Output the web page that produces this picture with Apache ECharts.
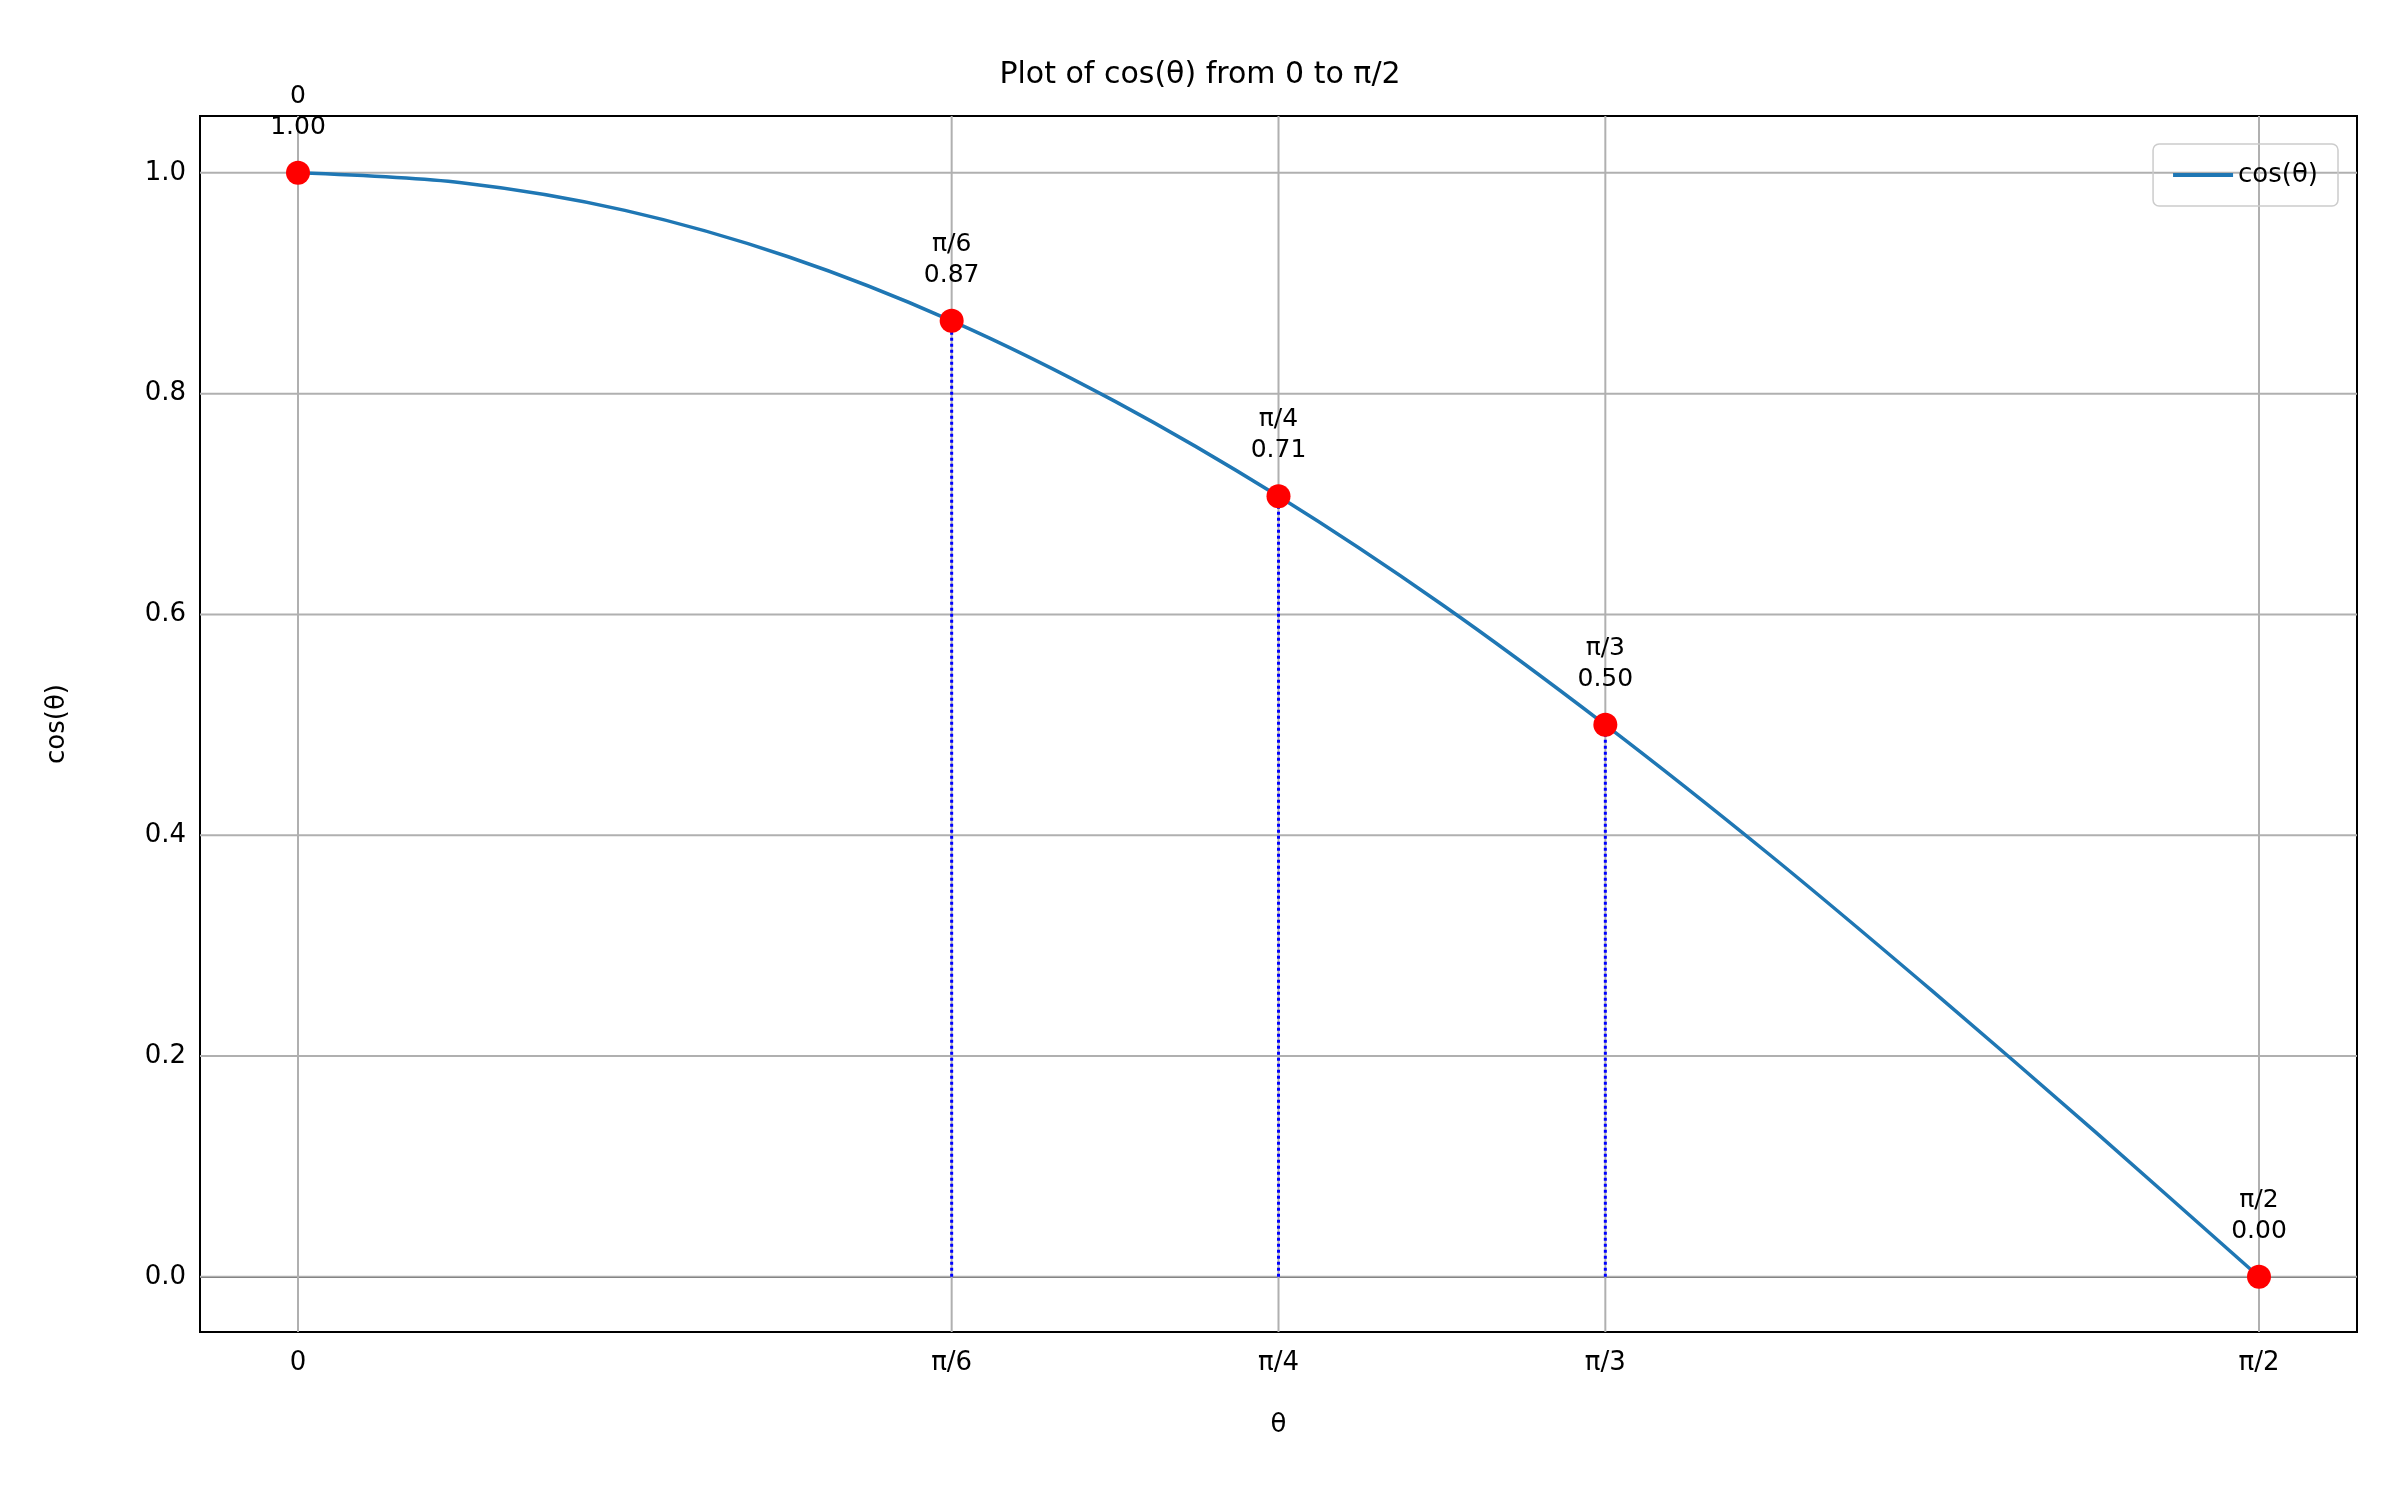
<!DOCTYPE html>
<html><head><meta charset="utf-8">
<script src="https://cdn.jsdelivr.net/npm/echarts@6/dist/echarts.min.js"></script>
<style>html,body{margin:0;padding:0;background:#fff}#c{width:2400px;height:1500px}</style>
</head><body><div id="c"></div>
<script>
// curve samples (theta in radians)
const curveX = [0,0.1309,0.2618,0.3927,0.5236,0.6545,0.7854,0.9163,1.0472,1.1781,1.3090,1.4399,1.5708];
const curveY = [1.00,0.991,0.966,0.924,0.866,0.793,0.707,0.609,0.500,0.383,0.259,0.131,0.00];
// highlighted points
const ptLabels = ['0','π/6','π/4','π/3','π/2'];
const ptX = [0,0.5236,0.7854,1.0472,1.5708];
const ptY = [1.00,0.866,0.707,0.50,0.00];
const dropIdx = [1,2,3];
const yTicks = [0.0,0.2,0.4,0.6,0.8,1.0];
const X_MIN = -0.0785, X_MAX = 1.6493, Y_MIN = -0.05, Y_MAX = 1.0515;

const font = 'DejaVu Sans';
const gridStyle = {color:'#b0b0b0',width:2};
const series = [];
ptX.forEach(x=>series.push({type:'line',showSymbol:false,silent:true,data:[[x,Y_MIN],[x,Y_MAX]],lineStyle:gridStyle,z:1}));
yTicks.forEach(y=>series.push({type:'line',showSymbol:false,silent:true,data:[[X_MIN,y],[X_MAX,y]],lineStyle:gridStyle,z:1}));
series.push({name:'cos(θ)',type:'line',smooth:0.3,showSymbol:false,
  data:curveX.map((x,i)=>[x,curveY[i]]),lineStyle:{color:'#1f77b4',width:3.5},itemStyle:{color:'#1f77b4'},z:3});
dropIdx.forEach(i=>series.push({type:'line',showSymbol:false,data:[[ptX[i],0],[ptX[i],ptY[i]]],
  lineStyle:{color:'#0000ff',width:3,type:[3,3]},z:4}));
const lbl = {show:true,position:'top',distance:18,color:'#000',fontFamily:font,fontSize:25,lineHeight:31};
series.push({type:'scatter',symbolSize:24,itemStyle:{color:'#ff0000',opacity:1},z:5,
  data:ptX.map((x,i)=>({value:[x,ptY[i]],label:Object.assign({},lbl,{formatter:ptLabels[i]+'\n'+ptY[i].toFixed(2)})})),
  label:lbl});

const chart = echarts.init(document.getElementById('c'));
chart.setOption({
  animation:false,
  title:{text:'Plot of cos(θ) from 0 to π/2',left:'center',top:55,textStyle:{fontFamily:font,fontSize:30,fontWeight:'normal',color:'#000'}},
  legend:{data:['cos(θ)'],right:62,top:144,itemWidth:60,itemHeight:4,icon:'rect',itemGap:10,borderColor:'#ccc',borderWidth:1.5,borderRadius:6,padding:[18,20],
    textStyle:{fontFamily:font,fontSize:26,color:'#000'}},
  grid:{left:200,right:43,top:116,bottom:168,show:true,borderColor:'#000',borderWidth:2},
  xAxis:{type:'value',min:X_MIN,max:X_MAX,name:'θ',nameLocation:'middle',nameGap:80,
    nameTextStyle:{fontFamily:font,fontSize:26,color:'#000'},
    axisLine:{lineStyle:{color:'#000',width:2}},splitLine:{show:false},
    axisTick:{customValues:ptX,length:8,lineStyle:{color:'#000'}},
    axisLabel:{customValues:ptX,formatter:v=>{const i=ptX.findIndex(p=>Math.abs(p-v)<1e-6);return i>=0?ptLabels[i]:'';},
      fontFamily:font,fontSize:26,color:'#000',margin:18}},
  yAxis:{type:'value',min:Y_MIN,max:Y_MAX,name:'cos(θ)',nameLocation:'middle',nameGap:130,
    nameTextStyle:{fontFamily:font,fontSize:26,color:'#000'},
    axisLine:{show:true,lineStyle:{color:'#000',width:2}},splitLine:{show:false},
    axisTick:{show:true,customValues:yTicks,length:8,lineStyle:{color:'#000'}},
    axisLabel:{customValues:yTicks,formatter:v=>v.toFixed(1),fontFamily:font,fontSize:26,color:'#000',margin:14}},
  series:series
});
</script></body></html>
